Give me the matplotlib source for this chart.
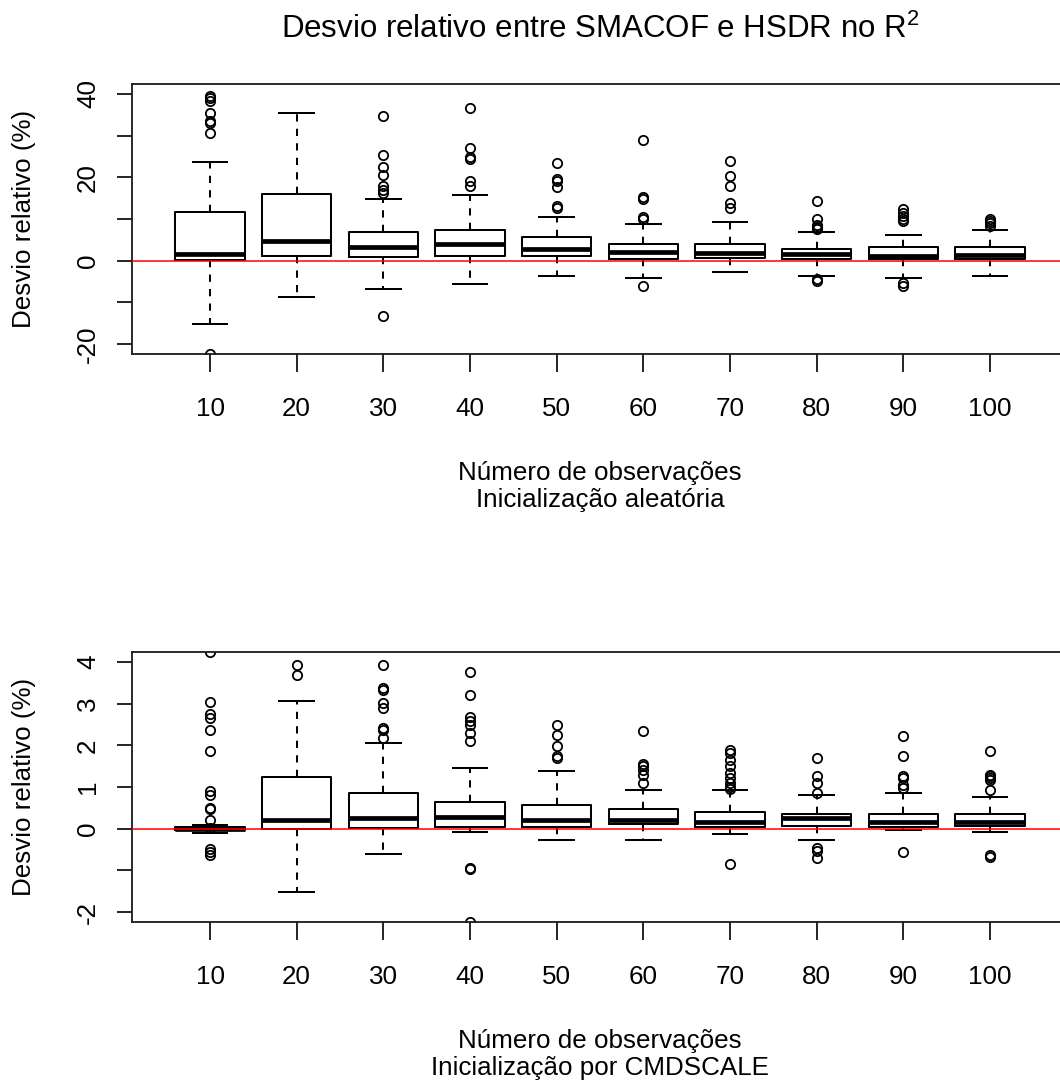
import matplotlib
matplotlib.use('Agg')
import matplotlib.pyplot as plt

plt.rcParams['font.family'] = ['Liberation Sans', 'DejaVu Sans']
plt.rcParams['mathtext.fontset'] = 'custom'
plt.rcParams['mathtext.rm'] = 'Liberation Sans'
plt.rcParams['mathtext.it'] = 'Liberation Sans:italic'

# ---------------- data ----------------
n_obs = [10, 20, 30, 40, 50, 60, 70, 80, 90, 100]

# Panel 1: random initialisation
rand_whislo = [-15.3, -8.8, -6.8, -5.6, -3.7, -4.1, -2.8, -3.6, -4.1, -3.7]
rand_q1 = [0.2, 1.2, 0.8, 1.2, 1.2, 0.3, 0.6, 0.4, 0.3, 0.3]
rand_med = [1.6, 4.8, 3.3, 4.1, 2.9, 2.0, 1.9, 1.6, 1.2, 1.4]
rand_q3 = [11.6, 16.1, 6.9, 7.3, 5.6, 4.1, 4.1, 2.8, 3.2, 3.2]
rand_whishi = [23.7, 35.5, 14.9, 15.8, 10.5, 8.8, 9.3, 6.9, 6.1, 7.3]
rand_fliers = [
    [39.4, 39.0, 38.2, 35.5, 33.6, 33.1, 30.7, -22.3],
    [],
    [34.7, 25.3, 22.5, 20.6, 17.9, 17.0, 16.3, -13.2],
    [36.6, 27.1, 24.9, 24.5, 19.1, 17.8],
    [23.4, 19.5, 19.0, 17.7, 13.1, 12.6],
    [29.0, 15.3, 14.9, 10.5, 10.1, -6.0],
    [23.8, 20.2, 17.8, 13.8, 12.6],
    [14.2, 10.1, 8.6, 8.0, 7.6, -4.4, -4.8],
    [12.4, 11.4, 10.8, 10.1, 9.6, -5.4, -6.2],
    [10.1, 9.6, 9.0, 8.4],
]

# Panel 2: CMDSCALE initialisation
cmd_whislo = [-0.10, -1.53, -0.60, -0.08, -0.28, -0.28, -0.12, -0.28, -0.04, -0.08]
cmd_q1 = [-0.04, 0.0, 0.02, 0.04, 0.04, 0.12, 0.04, 0.06, 0.04, 0.06]
cmd_med = [0.0, 0.2, 0.25, 0.29, 0.2, 0.2, 0.16, 0.26, 0.16, 0.16]
cmd_q3 = [0.05, 1.25, 0.85, 0.65, 0.56, 0.48, 0.41, 0.36, 0.36, 0.36]
cmd_whishi = [0.08, 3.06, 2.06, 1.46, 1.38, 0.93, 0.93, 0.81, 0.85, 0.77]
cmd_fliers = [
    [4.25, 3.04, 2.76, 2.65, 2.38, 1.86, 0.90, 0.81, 0.50, 0.47, 0.20, 0.02, -0.49, -0.57, -0.64],
    [3.93, 3.69],
    [3.93, 3.38, 3.34, 3.02, 2.90, 2.42, 2.38, 2.18],
    [3.76, 3.20, 2.68, 2.58, 2.48, 2.30, 2.10, -0.94, -0.97, -2.25],
    [2.50, 2.26, 1.98, 1.74, 1.69],
    [2.34, 1.56, 1.50, 1.42, 1.30, 1.10],
    [1.90, 1.82, 1.66, 1.50, 1.34, 1.22, 1.10, 1.00, 0.96, -0.84],
    [1.70, 1.26, 1.10, 0.85, -0.46, -0.53, -0.71],
    [2.22, 1.74, 1.26, 1.22, 1.06, 0.98, -0.56],
    [1.86, 1.30, 1.26, 1.22, 1.16, 0.94, -0.64, -0.68],
]

rand_yticks = [-20, -10, 0, 10, 20, 30, 40]
rand_yticklabels = ['-20', '', '0', '', '20', '', '40']
cmd_yticks = [-2, -1, 0, 1, 2, 3, 4]
cmd_yticklabels = ['-2', '', '0', '1', '2', '3', '4']

title = r'Desvio relativo entre SMACOF e HSDR no R$^2$'
ylabel = 'Desvio relativo (%)'
xlabel = 'Número de observações'
sub_rand = 'Inicialização aleatória'
sub_cmd = 'Inicialização por CMDSCALE'

# ---------------- layout ----------------
W, H = 1060, 1086
fig = plt.figure(figsize=(W / 100, H / 100), dpi=100)
FS = 18.7


def fx(px):
    return px / W


def fy(py):
    return 1 - py / H


def panel(top_px, whislo, q1, med, q3, whishi, fliers, ylim, yticks, yticklabels, sub):
    ax = fig.add_axes([fx(132), fy(top_px + 270), fx(936), 270 / H])
    stats = []
    for i in range(len(n_obs)):
        stats.append(dict(whislo=whislo[i], q1=q1[i], med=med[i], q3=q3[i],
                          whishi=whishi[i], fliers=fliers[i]))
    pos = list(range(1, len(n_obs) + 1))
    ax.bxp(stats, positions=pos, widths=0.8, capwidths=0.4, showfliers=True,
           manage_ticks=False,
           boxprops=dict(color='black', linewidth=1.45),
           whiskerprops=dict(color='black', linewidth=1.45, linestyle=(0, (3.6, 3.6))),
           capprops=dict(color='black', linewidth=1.45),
           medianprops=dict(color='black', linewidth=3.4, solid_capstyle='butt'),
           flierprops=dict(marker='o', markersize=6.7, markerfacecolor='none',
                           markeredgecolor='black', markeredgewidth=1.3, linestyle='none'))
    ax.axhline(0, color='red', linewidth=1.1, zorder=3)
    ax.set_xlim(0.1, 10.9)
    ax.set_ylim(*ylim)
    ax.set_xticks(pos)
    ax.set_xticklabels([str(v) for v in n_obs], fontsize=FS)
    ax.set_yticks(yticks)
    ax.set_yticklabels(yticklabels, fontsize=FS, rotation=90, va='center')
    ax.tick_params(axis='x', length=13, width=1.2, pad=18, colors='black')
    ax.tick_params(axis='y', length=11, width=1.2, pad=12, colors='black')
    for s in ax.spines.values():
        s.set_linewidth(1.3)
        s.set_color('#1a1a1a')
    ax.set_ylabel(ylabel, fontsize=FS)
    ax.yaxis.label.set_va('center')
    ax.yaxis.set_label_coords((24 - 132) / 936, 0.5)
    fig.text(fx(600), fy(top_px + 396), xlabel, fontsize=FS, ha='center', va='baseline')
    fig.text(fx(600), fy(top_px + 423), sub, fontsize=FS, ha='center', va='baseline')
    return ax


panel(84, rand_whislo, rand_q1, rand_med, rand_q3, rand_whishi, rand_fliers,
      (-22.4, 42.4), rand_yticks, rand_yticklabels, sub_rand)
panel(652, cmd_whislo, cmd_q1, cmd_med, cmd_q3, cmd_whishi, cmd_fliers,
      (-2.24, 4.24), cmd_yticks, cmd_yticklabels, sub_cmd)

fig.text(fx(600), fy(38.3), title, fontsize=22.5, ha='center', va='baseline')

fig.savefig('out.png', dpi=100)
